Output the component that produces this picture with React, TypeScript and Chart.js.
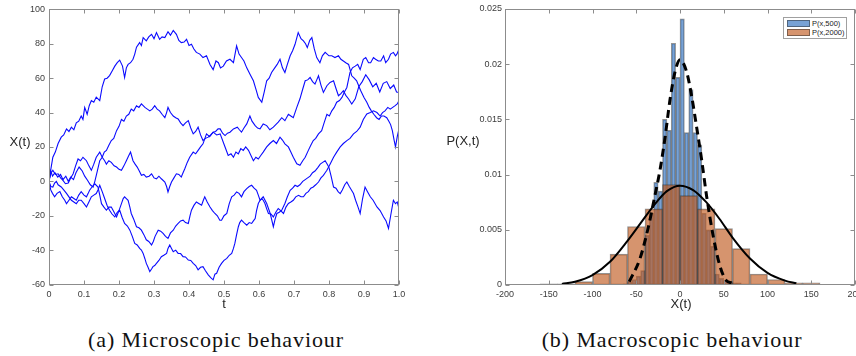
import React, { useEffect, useRef } from "react";
import { Chart, registerables } from "chart.js";
Chart.register(...registerables);

// ---------- (a) random walks: [t, X(t)] ----------
const walkA: number[][] = [
  [0,0],[0.006,8],[0.011,14],[0.018,17],[0.026,22],[0.035,25.7],[0.042,27],[0.05,30.5],[0.057,29],[0.064,31.5],[0.071,30],[0.078,34],[0.085,35],[0.092,38],[0.097,36],[0.102,43],[0.109,39],[0.115,44],[0.121,47],[0.128,46],[0.135,49],[0.145,47],[0.152,55],[0.159,59.5],[0.166,60],[0.173,61.5],[0.18,64],[0.188,67],[0.195,69],[0.202,70.5],[0.21,67],[0.216,60.4],[0.221,66],[0.226,68],[0.233,69],[0.24,71],[0.245,74],[0.25,78],[0.259,80.7],[0.264,79],[0.269,83.6],[0.278,81.7],[0.285,84],[0.293,85.5],[0.3,83],[0.307,86.5],[0.316,82.6],[0.323,84],[0.331,83.6],[0.34,87],[0.347,85],[0.355,87.8],[0.364,85.5],[0.371,82],[0.378,80.7],[0.386,81],[0.393,82.6],[0.4,79],[0.407,79.7],[0.414,77],[0.421,75],[0.431,74],[0.44,72],[0.45,73],[0.46,68],[0.469,65],[0.477,70],[0.484,69],[0.49,66],[0.498,67],[0.507,70],[0.517,71],[0.527,69],[0.536,78.8],[0.543,74],[0.55,72],[0.557,70],[0.565,66],[0.575,62],[0.584,58.5],[0.592,53],[0.598,48.8],[0.608,46],[0.615,52],[0.622,58.5],[0.629,60],[0.636,63.3],[0.645,66],[0.652,68],[0.66,71],[0.667,66],[0.674,63.3],[0.681,68],[0.689,73],[0.696,76],[0.703,79.7],[0.712,86.5],[0.72,83],[0.727,81.7],[0.733,80],[0.738,77.8],[0.745,82],[0.751,83.6],[0.758,77],[0.765,72],[0.774,69],[0.781,73],[0.789,75],[0.8,73],[0.808,73],[0.817,72],[0.827,73],[0.834,71],[0.841,70],[0.848,69],[0.856,68],[0.865,61.4],[0.872,60],[0.879,58.5],[0.89,53],[0.9,48.8],[0.908,46],[0.915,43],[0.921,41],[0.928,39],[0.936,37],[0.943,36],[0.95,38],[0.957,38],[0.965,37],[0.971,35],[0.976,33],[0.981,29.5],[0.986,24],[0.99,20],[0.995,26],[1,30.5]
];
const walkB: number[][] = [
  [0,0],[0.005,6],[0.01,3],[0.017,5],[0.025,2.5],[0.033,4],[0.04,1],[0.048,3],[0.055,0],[0.062,2.5],[0.07,1],[0.077,5],[0.086,8.3],[0.095,6],[0.102,3],[0.11,0.6],[0.118,-2],[0.126,-3.3],[0.131,0],[0.138,6],[0.145,12],[0.152,14],[0.158,17],[0.164,18],[0.171,21],[0.178,23.7],[0.185,25],[0.193,29.5],[0.2,32],[0.207,36],[0.214,35],[0.221,38],[0.228,39],[0.235,42],[0.242,41],[0.25,44],[0.257,43],[0.264,45],[0.274,43],[0.281,42],[0.288,41],[0.295,42],[0.302,44],[0.309,42],[0.316,41],[0.323,39],[0.331,37],[0.336,40],[0.34,43],[0.347,40],[0.355,38],[0.362,37],[0.369,36.3],[0.376,34],[0.383,32.4],[0.39,34],[0.398,35.3],[0.405,31],[0.412,27.6],[0.419,29],[0.426,31.5],[0.433,27],[0.44,23.7],[0.447,25],[0.455,25.7],[0.462,27],[0.469,28.6],[0.476,29],[0.483,30.5],[0.489,30.5],[0.496,28],[0.503,26.6],[0.51,28],[0.517,28.6],[0.527,30.5],[0.538,31.5],[0.544,30],[0.55,28.6],[0.557,31],[0.565,33.4],[0.574,38],[0.58,35],[0.589,32.4],[0.596,31],[0.603,30.5],[0.612,33.4],[0.622,32.4],[0.631,30],[0.641,31.5],[0.648,33],[0.655,34.4],[0.665,37],[0.674,35.3],[0.684,39],[0.691,38],[0.698,37],[0.708,43],[0.717,48],[0.725,53.7],[0.732,58.5],[0.739,59],[0.746,60.4],[0.753,58],[0.76,56.6],[0.765,59],[0.77,61.4],[0.777,56],[0.784,51.7],[0.794,55.6],[0.803,57.5],[0.813,58.5],[0.82,54],[0.827,49.8],[0.834,51],[0.841,52.7],[0.848,50],[0.856,47.9],[0.865,45],[0.875,48],[0.885,55],[0.895,58],[0.905,62],[0.915,59],[0.925,55],[0.935,57],[0.945,52],[0.955,57],[0.965,58],[0.975,54],[0.985,56],[0.993,52],[1,51.7]
];
const walkC: number[][] = [
  [0,0],[0.006,5],[0.011,6.4],[0.018,4],[0.026,4.4],[0.033,2],[0.04,0.6],[0.047,-1.4],[0.055,-1],[0.062,2],[0.069,4.4],[0.076,9],[0.083,13],[0.09,12],[0.097,14],[0.107,12],[0.114,9],[0.121,6.4],[0.128,10],[0.135,14],[0.145,17],[0.152,14],[0.159,12],[0.164,10],[0.171,12],[0.178,11],[0.186,9],[0.193,8.3],[0.2,7],[0.207,6.4],[0.214,9],[0.221,12],[0.228,15],[0.233,17],[0.24,12],[0.246,10],[0.252,8.3],[0.258,6],[0.264,3.5],[0.271,4],[0.278,2.5],[0.286,3],[0.293,4.4],[0.3,2],[0.307,1.5],[0.314,3],[0.321,1.5],[0.331,-0.4],[0.336,-3],[0.34,-6.2],[0.345,-3],[0.35,-0.4],[0.357,2],[0.364,4.4],[0.371,4],[0.378,2.5],[0.383,5],[0.388,7.3],[0.395,11],[0.402,14],[0.412,17],[0.419,16],[0.426,18],[0.433,20],[0.44,21.8],[0.45,27.6],[0.459,26],[0.469,28.6],[0.479,27],[0.489,27.6],[0.503,20],[0.512,15],[0.52,16],[0.527,14],[0.534,17],[0.541,16],[0.548,19],[0.555,18],[0.562,20],[0.57,18],[0.577,15],[0.584,12],[0.591,14],[0.598,13],[0.605,15],[0.612,17],[0.622,20],[0.631,22],[0.641,23.7],[0.65,22],[0.66,25.7],[0.667,24],[0.674,21.8],[0.684,20],[0.691,17],[0.698,14],[0.708,10.2],[0.717,9.3],[0.725,12],[0.732,14],[0.741,18],[0.748,21],[0.755,23.7],[0.762,25],[0.77,27.6],[0.779,29.5],[0.786,34],[0.794,39],[0.801,38],[0.808,41],[0.815,43],[0.822,46],[0.83,47],[0.837,48.8],[0.844,52],[0.851,54.6],[0.86,63.3],[0.867,66],[0.875,67],[0.882,68],[0.889,65],[0.898,71],[0.905,72],[0.913,69],[0.919,69],[0.927,72],[0.933,71],[0.941,70],[0.948,70],[0.956,73],[0.962,69],[0.97,71],[0.976,74],[0.984,75],[0.99,73],[0.994,74],[1,76.8]
];
const walkD: number[][] = [
  [0,0],[0.005,-5],[0.01,-7],[0.016,-9],[0.023,-7],[0.031,-6],[0.038,-9],[0.045,-11],[0.05,-13],[0.057,-11],[0.064,-9],[0.071,-10],[0.078,-11],[0.085,-8],[0.092,-6],[0.1,-8],[0.107,-9],[0.112,-7],[0.116,-5.2],[0.124,-3],[0.131,-1.4],[0.14,-3.3],[0.145,-8],[0.15,-13],[0.157,-15],[0.164,-16.8],[0.171,-15],[0.178,-14.9],[0.186,-18],[0.193,-20.7],[0.2,-17],[0.207,-13],[0.212,-10],[0.216,-9],[0.221,-10],[0.226,-11],[0.231,-15],[0.235,-18.7],[0.242,-22],[0.25,-26.4],[0.257,-27],[0.264,-28.4],[0.271,-31],[0.278,-34],[0.285,-35],[0.293,-37],[0.298,-35],[0.303,-32],[0.312,-28.4],[0.319,-29],[0.326,-30.3],[0.333,-32],[0.34,-33.2],[0.347,-30],[0.355,-28.4],[0.362,-26],[0.369,-24.5],[0.376,-23],[0.383,-22.6],[0.39,-24],[0.398,-24.5],[0.403,-20],[0.407,-16.8],[0.414,-14],[0.421,-12],[0.429,-13],[0.436,-13.9],[0.441,-11],[0.445,-9],[0.452,-12],[0.46,-14.9],[0.467,-17],[0.474,-18.7],[0.481,-20],[0.488,-22.6],[0.493,-22.6],[0.5,-20],[0.508,-18.7],[0.515,-13],[0.522,-9],[0.529,-8],[0.536,-6.2],[0.543,-7],[0.55,-9],[0.557,-6],[0.565,-4.2],[0.572,-3],[0.579,-2.3],[0.586,-4],[0.593,-5.2],[0.598,-8],[0.603,-11],[0.612,-9],[0.622,-12.9],[0.632,-18.7],[0.641,-26.4],[0.646,-22],[0.651,-18.7],[0.658,-18],[0.665,-16.8],[0.674,-12.9],[0.681,-9],[0.689,-5.2],[0.696,-4],[0.703,-2.3],[0.71,-3],[0.717,-2],[0.725,0],[0.732,1],[0.739,2],[0.746,3],[0.753,5],[0.76,6],[0.768,8],[0.775,10],[0.782,11],[0.789,12],[0.795,10],[0.8,8],[0.806,3],[0.813,-3.3],[0.82,-4],[0.826,-6],[0.832,-7.1],[0.838,-5],[0.845,-2],[0.851,-0.4],[0.858,-3],[0.864,-5],[0.87,-7.1],[0.876,-11],[0.883,-15],[0.889,-18.7],[0.896,-10],[0.903,-3.3],[0.91,-6],[0.918,-9],[0.926,-11],[0.937,-14.9],[0.946,-17],[0.956,-20.7],[0.963,-23],[0.97,-27.4],[0.977,-19],[0.984,-11],[0.99,-13],[0.995,-12],[1,-15.8]
];
const walkE: number[][] = [
  [0,0],[0.005,-3],[0.011,-3.3],[0.016,-1],[0.021,0],[0.026,-2],[0.035,-3.3],[0.042,-5],[0.05,-7],[0.057,-9],[0.064,-11],[0.071,-12],[0.078,-13],[0.085,-11],[0.092,-11],[0.1,-13],[0.107,-14.9],[0.114,-12],[0.121,-9],[0.128,-8],[0.135,-7.1],[0.14,-5],[0.145,-2.3],[0.152,-6],[0.159,-10],[0.166,-14],[0.173,-16.8],[0.18,-19],[0.188,-20.7],[0.195,-18],[0.202,-16.8],[0.209,-21],[0.216,-24.5],[0.224,-26],[0.231,-28.4],[0.238,-32],[0.245,-36.1],[0.252,-37],[0.259,-39],[0.264,-40],[0.269,-41.9],[0.274,-45],[0.278,-47.7],[0.283,-50],[0.288,-52.5],[0.293,-51],[0.297,-49.6],[0.302,-49],[0.307,-47.7],[0.314,-46],[0.321,-43.8],[0.328,-43],[0.336,-41.9],[0.34,-39],[0.345,-37],[0.35,-39],[0.355,-40.9],[0.362,-40],[0.369,-41.9],[0.376,-42],[0.383,-43.8],[0.39,-44],[0.398,-45.8],[0.405,-46],[0.412,-47.7],[0.419,-49],[0.426,-51.5],[0.433,-50],[0.44,-49.6],[0.447,-52],[0.455,-54.4],[0.462,-56],[0.469,-57.3],[0.474,-54],[0.479,-53.5],[0.486,-50],[0.493,-47.7],[0.5,-46],[0.508,-44.8],[0.515,-43],[0.522,-41.9],[0.527,-39],[0.531,-36.1],[0.536,-31],[0.541,-26.4],[0.545,-24],[0.55,-22.6],[0.557,-24],[0.565,-25.5],[0.572,-24],[0.579,-24.5],[0.584,-23],[0.589,-21.6],[0.593,-17],[0.598,-12.9],[0.603,-11],[0.608,-10],[0.612,-11],[0.617,-12.9],[0.622,-16],[0.627,-18.7],[0.634,-19],[0.641,-20.7],[0.648,-18],[0.655,-15.8],[0.662,-17],[0.67,-18.7],[0.677,-15],[0.684,-12.9],[0.691,-12],[0.698,-11],[0.705,-9],[0.713,-8.1],[0.72,-9],[0.727,-9],[0.734,-7],[0.741,-6],[0.748,-4],[0.755,-3.3],[0.762,-2],[0.77,-0.4],[0.777,2],[0.784,3.5],[0.789,5],[0.794,6.4],[0.803,10],[0.813,14],[0.822,17],[0.832,20],[0.841,22],[0.851,23.7],[0.86,25],[0.87,27.6],[0.879,29],[0.889,31.5],[0.898,36],[0.908,39.2],[0.918,40],[0.927,41],[0.937,40],[0.946,38],[0.953,40],[0.96,41],[0.968,43],[0.975,42],[0.982,43],[0.989,44],[0.995,45],[1,47]
];
const leftXTicks = [0, 0.1, 0.2, 0.3, 0.4, 0.5, 0.6, 0.7, 0.8, 0.9, 1];
const leftYTicks = [-60, -40, -20, 0, 20, 40, 60, 80, 100];

// ---------- (b) histograms ----------
const orangeCenters = [-150, -130, -110, -90, -70, -50, -30, -10, 10, 30, 50, 70, 90, 110, 130, 150];
const orangeValues = [0.0001, 0.0001, 0.0003, 0.00106, 0.0028, 0.0053, 0.0069, 0.0091, 0.0081, 0.0069, 0.0051, 0.0033, 0.001, 0.0005, 0.0002, 0.0002];
const blueCenters = [-62.5, -57.5, -52.5, -47.5, -42.5, -37.5, -32.5, -27.5, -22.5, -17.5, -12.5, -7.5, -2.5, 2.5, 7.5, 12.5, 17.5, 22.5, 27.5, 32.5, 37.5, 42.5, 47.5, 52.5, 57.5, 62.5, 67.5];
const blueValues = [0.0001, 0.0003, 0.0005, 0.0008, 0.0013, 0.0045, 0.0065, 0.0093, 0.0085, 0.015, 0.014, 0.0219, 0.0188, 0.0241, 0.0138, 0.0177, 0.0138, 0.0127, 0.0065, 0.005, 0.0035, 0.001, 0.0006, 0.0004, 0.0003, 0.0002, 0.0002];
const solidX = [-135, -120, -100, -80, -60, -45, -30, -15, 0, 15, 30, 45, 60, 80, 100, 120, 133];
const solidY = [0.0001, 0.0003, 0.0009, 0.0021, 0.004, 0.0056, 0.0072, 0.0085, 0.009, 0.0086, 0.0075, 0.006, 0.0043, 0.0024, 0.0011, 0.0004, 0.00015];
const dashedX = [-58, -45.7, -36, -29.7, -22.9, -17, -11.4, -5.7, 0, 7.6, 13.3, 19, 24.8, 30.5, 38, 45.7, 53, 59];
const dashedY = [0.0003, 0.0024, 0.0053, 0.0077, 0.0104, 0.0134, 0.0168, 0.0193, 0.0204, 0.0193, 0.0171, 0.0143, 0.0113, 0.008, 0.0044, 0.0017, 0.0004, 0.0002];
const rightXTicks = [-200, -150, -100, -50, 0, 50, 100, 150, 200];
const rightYTicks = [0, 0.005, 0.01, 0.015, 0.02, 0.025];
const rightYLabels = ["0", "0.005", "0.01", "0.015", "0.02", "0.025"];
const legendLabels = ["P(x,500)", "P(x,2000)"];

const BLUE_FILL = "rgba(30,100,185,0.6)";
const ORANGE_FILL = "rgba(192,91,32,0.65)";
const EDGE = "rgba(40,40,40,0.5)";
const TICK_FONT = { family: "'Liberation Sans', Arial, sans-serif", size: 9 };
const TICK_COLOR = "#3c3c3c";

const boxPlugin = {
  id: "matlabBox",
  afterDraw(chart: any) {
    const { ctx, chartArea: a } = chart;
    const xs = chart.scales.x;
    const ys = chart.scales.y;
    const L = Math.round(a.left) + 0.5;
    const R = Math.round(a.right) - 0.5;
    const T = Math.round(a.top) + 0.5;
    const B = Math.round(a.bottom) - 0.5;
    ctx.save();
    ctx.strokeStyle = "#8c8c8c";
    ctx.lineWidth = 1;
    ctx.strokeRect(L, T, R - L, B - T);
    const len = 4;
    ctx.beginPath();
    xs.ticks.forEach((t: any) => {
      const px = Math.round(xs.getPixelForValue(t.value)) + 0.5;
      ctx.moveTo(px, B); ctx.lineTo(px, B - len);
      ctx.moveTo(px, T); ctx.lineTo(px, T + len);
    });
    ys.ticks.forEach((t: any) => {
      const py = Math.round(ys.getPixelForValue(t.value)) + 0.5;
      ctx.moveTo(L, py); ctx.lineTo(L + len, py);
      ctx.moveTo(R, py); ctx.lineTo(R - len, py);
    });
    ctx.stroke();
    ctx.restore();
  },
};

function walkDataset(w: number[][]) {
  return {
    data: w.map((p) => ({ x: p[0], y: p[1] })),
    borderColor: "#0a0aff",
    borderWidth: 1.1,
    pointRadius: 0,
    tension: 0,
    fill: false,
  };
}

function leftConfig(): any {
  return {
    type: "line",
    data: { datasets: [walkA, walkB, walkC, walkD, walkE].map(walkDataset) },
    options: {
      animation: false,
      responsive: false,
      devicePixelRatio: 1,
      layout: { padding: { left: 0, top: 8, right: 21, bottom: 0 } },
      plugins: { legend: { display: false }, tooltip: { enabled: false } },
      scales: {
        x: {
          type: "linear", min: 0, max: 1, offset: false,
          afterBuildTicks: (s: any) => { s.ticks = leftXTicks.map((v) => ({ value: v })); },
          afterFit: (s: any) => { s.height = 35.5; },
          grid: { display: false, drawTicks: false },
          border: { display: false },
          ticks: { font: TICK_FONT, color: TICK_COLOR, padding: 5, maxRotation: 0, autoSkip: false },
        },
        y: {
          type: "linear", min: -60, max: 100,
          afterBuildTicks: (s: any) => { s.ticks = leftYTicks.map((v) => ({ value: v })); },
          afterFit: (s: any) => { s.width = 49; },
          grid: { display: false, drawTicks: false },
          border: { display: false },
          ticks: { font: TICK_FONT, color: TICK_COLOR, padding: 4, autoSkip: false },
        },
      },
    },
    plugins: [boxPlugin],
  };
}

function rightConfig(): any {
  return {
    data: {
      datasets: [
        {
          type: "line",
          data: dashedX.map((x, i) => ({ x, y: dashedY[i] })),
          borderColor: "#000",
          borderWidth: 3,
          borderDash: [8, 5],
          pointRadius: 0,
          cubicInterpolationMode: "monotone",
          fill: false,
          order: 0,
        },
        {
          type: "line",
          data: solidX.map((x, i) => ({ x, y: solidY[i] })),
          borderColor: "#000",
          borderWidth: 2,
          pointRadius: 0,
          cubicInterpolationMode: "monotone",
          fill: false,
          order: 0,
        },
        {
          type: "bar",
          label: legendLabels[1],
          data: orangeCenters.map((x, i) => ({ x, y: orangeValues[i] })),
          backgroundColor: ORANGE_FILL,
          borderColor: EDGE,
          borderWidth: 1,
          borderSkipped: false,
          grouped: false,
          barPercentage: 1,
          categoryPercentage: 1,
          xAxisID: "x",
          order: 1,
        },
        {
          type: "bar",
          label: legendLabels[0],
          data: blueCenters.map((x, i) => ({ x, y: blueValues[i] })),
          backgroundColor: BLUE_FILL,
          borderColor: EDGE,
          borderWidth: 1,
          borderSkipped: false,
          grouped: false,
          barPercentage: 1,
          categoryPercentage: 1,
          xAxisID: "xb",
          order: 2,
        },
      ],
    },
    options: {
      animation: false,
      responsive: false,
      devicePixelRatio: 1,
      layout: { padding: { left: 0, top: 9, right: 15, bottom: 0 } },
      plugins: { legend: { display: false }, tooltip: { enabled: false } },
      scales: {
        x: {
          type: "linear", min: -200, max: 200, offset: false,
          afterBuildTicks: (s: any) => { s.ticks = rightXTicks.map((v) => ({ value: v })); },
          afterFit: (s: any) => { s.height = 35; },
          grid: { display: false, drawTicks: false, offset: false },
          border: { display: false },
          ticks: { font: TICK_FONT, color: TICK_COLOR, padding: 4, maxRotation: 0, autoSkip: false },
        },
        xb: {
          type: "linear", min: -200, max: 200, display: false, offset: false,
          grid: { offset: false },
          afterBuildTicks: (s: any) => { s.ticks = rightXTicks.map((v) => ({ value: v })); },
        },
        y: {
          type: "linear", min: 0, max: 0.025,
          afterBuildTicks: (s: any) => { s.ticks = rightYTicks.map((v) => ({ value: v })); },
          afterFit: (s: any) => { s.width = 85; },
          grid: { display: false, drawTicks: false },
          border: { display: false },
          ticks: {
            font: TICK_FONT, color: TICK_COLOR, padding: 3, autoSkip: false,
            callback: (_v: any, i: number) => rightYLabels[i],
          },
        },
      },
    },
    plugins: [boxPlugin],
  };
}

const sans = "'Liberation Sans', Arial, sans-serif";
const serif = "'Liberation Serif', 'Times New Roman', serif";

function Label(props: { x: number; y: number; text: string; size?: number }) {
  return (
    <div
      style={{
        position: "absolute", left: props.x, top: props.y, transform: "translate(-50%,-50%)",
        fontFamily: sans, fontSize: props.size || 13, color: "#262626", whiteSpace: "nowrap", lineHeight: 1,
      }}
    >
      {props.text}
    </div>
  );
}

export default function App() {
  const leftRef = useRef<HTMLCanvasElement>(null);
  const rightRef = useRef<HTMLCanvasElement>(null);
  useEffect(() => {
    const c1 = new Chart(leftRef.current as HTMLCanvasElement, leftConfig());
    const c2 = new Chart(rightRef.current as HTMLCanvasElement, rightConfig());
    return () => { c1.destroy(); c2.destroy(); };
  }, []);
  const swatch = (bg: string, top: number) => (
    <div style={{ position: "absolute", left: 3, top, width: 23, height: 7, background: bg, border: "1px solid " + EDGE, boxSizing: "border-box" }} />
  );
  const capStyle: any = {
    position: "absolute", top: 340, transform: "translate(-50%,-50%)", fontFamily: serif,
    fontSize: 22, letterSpacing: 0.9, color: "#111", whiteSpace: "nowrap", lineHeight: 1,
  };
  return (
    <div style={{ position: "fixed", left: 0, top: 0, width: 856, height: 356, overflow: "hidden", background: "#fff" }}>
      <canvas ref={leftRef} width={420} height={320} style={{ position: "absolute", left: 0, top: 0, width: 420, height: 320 }} />
      <canvas ref={rightRef} width={450} height={320} style={{ position: "absolute", left: 420, top: 0, width: 450, height: 320 }} />
      <Label x={20} y={141} text="X(t)" />
      <Label x={224} y={303} text="t" />
      <Label x={463} y={140} text="P(X,t)" />
      <Label x={681} y={303} text="X(t)" />
      <div style={{ position: "absolute", left: 783, top: 17, width: 64, height: 22, border: "1px solid #a0a0a0", background: "#fff", boxSizing: "border-box" }}>
        {swatch(BLUE_FILL, 2)}
        {swatch(ORANGE_FILL, 11)}
        <div style={{ position: "absolute", left: 28, top: 1, fontFamily: sans, fontSize: 7.5, lineHeight: "9px", color: "#222", whiteSpace: "nowrap" }}>{legendLabels[0]}</div>
        <div style={{ position: "absolute", left: 28, top: 10, fontFamily: sans, fontSize: 7.5, lineHeight: "9px", color: "#222", whiteSpace: "nowrap" }}>{legendLabels[1]}</div>
      </div>
      <div style={{ ...capStyle, left: 216 }}>(a) Microscopic behaviour</div>
      <div style={{ ...capStyle, left: 672 }}>(b) Macroscopic behaviour</div>
    </div>
  );
}
